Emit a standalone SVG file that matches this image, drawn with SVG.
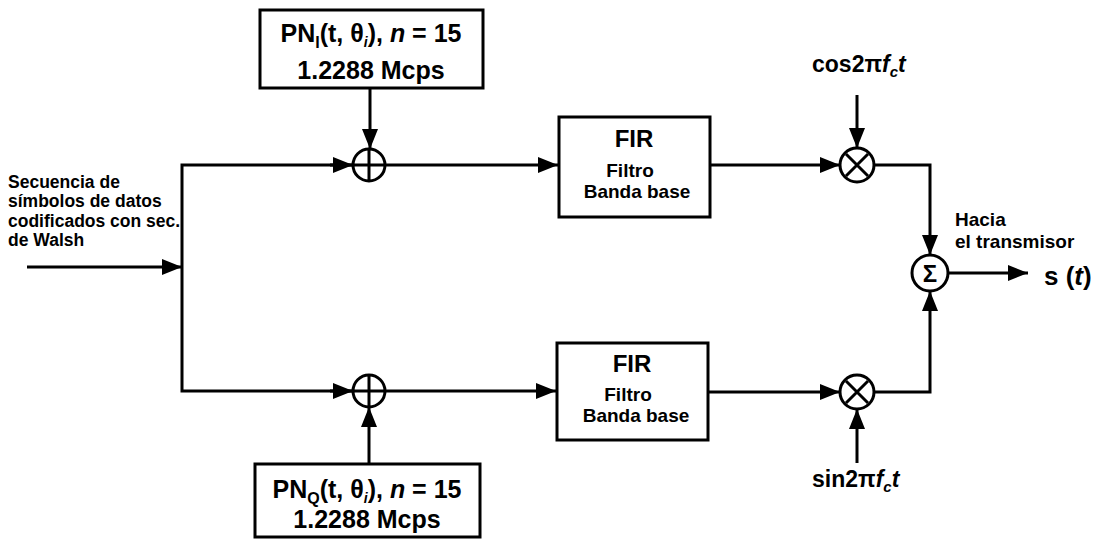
<svg xmlns="http://www.w3.org/2000/svg" width="1102" height="546" viewBox="0 0 1102 546">
<defs>
<marker id="arr" viewBox="0 0 20 16" refX="20" refY="8" markerWidth="20" markerHeight="16" markerUnits="userSpaceOnUse" orient="auto">
<path d="M0,0 L20,8 L0,16 z" fill="#000"/>
</marker>
</defs>
<style>
.ln{fill:none;stroke:#000;stroke-width:3}
.box{fill:#fff;stroke:#000;stroke-width:3}
.op{fill:#fff;stroke:#000;stroke-width:3}
.t{font-family:"Liberation Sans",Arial,sans-serif;font-weight:bold;fill:#000}
.pn{font-size:25px;text-anchor:middle}
.fir{font-size:24px;text-anchor:middle}
.fb{font-size:19px;text-anchor:middle}
.lbl{font-size:17.5px}
.h{font-size:19px}
.osc{font-size:23px}
</style>
<rect width="1102" height="546" fill="#fff"/>
<g id="connectors">
<line class="ln" x1="27" y1="267" x2="182" y2="267" marker-end="url(#arr)"/>
<polyline class="ln" points="353,165 182,165 182,391 353,391"/>
<line class="ln" x1="330" y1="165" x2="353" y2="165" marker-end="url(#arr)"/>
<line class="ln" x1="330" y1="391" x2="353" y2="391" marker-end="url(#arr)"/>
<line class="ln" x1="370" y1="88" x2="370" y2="149" marker-end="url(#arr)"/>
<line class="ln" x1="369" y1="464" x2="369" y2="407" marker-end="url(#arr)"/>
<line class="ln" x1="385" y1="165" x2="558" y2="165" marker-end="url(#arr)"/>
<line class="ln" x1="385" y1="391" x2="556" y2="391" marker-end="url(#arr)"/>
<line class="ln" x1="710" y1="165" x2="840" y2="165" marker-end="url(#arr)"/>
<line class="ln" x1="708" y1="392" x2="840" y2="392" marker-end="url(#arr)"/>
<line class="ln" x1="857" y1="95" x2="857" y2="148" marker-end="url(#arr)"/>
<line class="ln" x1="857" y1="463" x2="857" y2="409" marker-end="url(#arr)"/>
<polyline class="ln" points="874,165 930,165 930,255" marker-end="url(#arr)"/>
<polyline class="ln" points="874,392 930,392 930,291" marker-end="url(#arr)"/>
<line class="ln" x1="948" y1="273" x2="1028" y2="273" marker-end="url(#arr)"/>
</g>
<g id="input-label">
<text class="t lbl" x="8" y="188">Secuencia de</text>
<text class="t lbl" x="8" y="207">símbolos de datos</text>
<text class="t lbl" x="8" y="227">codificados con sec.</text>
<text class="t lbl" x="8" y="246">de Walsh</text>
</g>
<g id="pn-i">
<rect class="box" x="260" y="10" width="223" height="78"/>
<text class="t pn" x="371" y="42">PN<tspan font-size="16" dy="6">I</tspan><tspan dy="-6">(t, θ</tspan><tspan font-size="14" font-style="italic" dy="5">i</tspan><tspan dy="-5">), </tspan><tspan font-style="italic">n</tspan> = 15</text>
<text class="t pn" x="371" y="79">1.2288 Mcps</text>
</g>
<g id="pn-q">
<rect class="box" x="255" y="464" width="225" height="73"/>
<text class="t pn" x="367" y="498">PN<tspan font-size="16" dy="6">Q</tspan><tspan dy="-6">(t, θ</tspan><tspan font-size="14" font-style="italic" dy="5">i</tspan><tspan dy="-5">), </tspan><tspan font-style="italic">n</tspan> = 15</text>
<text class="t pn" x="367" y="528">1.2288 Mcps</text>
</g>
<g id="adder-i">
<circle class="op" cx="369" cy="165" r="16"/>
<path class="ln" d="M353,165 H385 M369,149 V181"/>
</g>
<g id="adder-q">
<circle class="op" cx="369" cy="391" r="16"/>
<path class="ln" d="M353,391 H385 M369,375 V407"/>
</g>
<g id="fir-i">
<rect class="box" x="559" y="117" width="151" height="100"/>
<text class="t fir" x="634" y="147">FIR</text>
<text class="t fb" x="630" y="177">Filtro</text>
<text class="t fb" x="637" y="198">Banda base</text>
</g>
<g id="fir-q">
<rect class="box" x="557" y="343" width="151" height="97"/>
<text class="t fir" x="632" y="372">FIR</text>
<text class="t fb" x="628" y="401">Filtro</text>
<text class="t fb" x="636" y="422">Banda base</text>
</g>
<g id="mult-i">
<circle class="op" cx="857" cy="165" r="17"/>
<path class="ln" d="M846,154 L868,176 M868,154 L846,176"/>
</g>
<g id="mult-q">
<circle class="op" cx="857" cy="392" r="17"/>
<path class="ln" d="M846,381 L868,403 M868,381 L846,403"/>
</g>
<g id="cos-label">
<text class="t osc" x="812" y="72">cos2π<tspan font-style="italic">f</tspan><tspan font-size="15" font-style="italic" dy="5">c</tspan><tspan font-style="italic" dy="-5">t</tspan></text>
</g>
<g id="sin-label">
<text class="t osc" x="812" y="487">sin2π<tspan font-style="italic">f</tspan><tspan font-size="15" font-style="italic" dy="5">c</tspan><tspan font-style="italic" dy="-5">t</tspan></text>
</g>
<g id="sum">
<circle class="op" cx="930" cy="273" r="18"/>
<text class="t" x="930" y="282" font-size="24" text-anchor="middle" font-family="Liberation Serif, serif">Σ</text>
</g>
<g id="output-label">
<text class="t h" x="955" y="226">Hacia</text>
<text class="t h" x="955" y="248">el transmisor</text>
<text class="t" x="1044" y="285" font-size="26">s (<tspan font-style="italic">t</tspan>)</text>
</g>
</svg>
